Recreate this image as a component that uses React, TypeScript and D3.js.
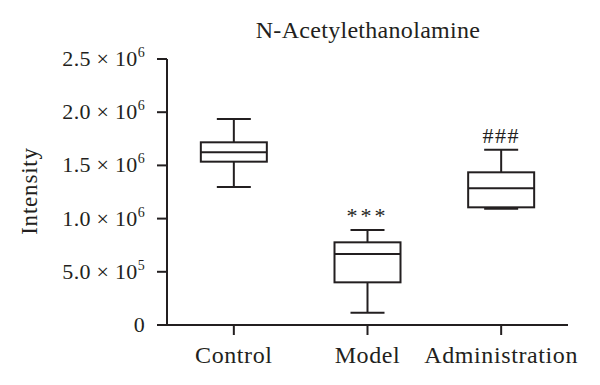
import React from 'react';
import * as d3 from 'd3';

const categories = ['Control', 'Model', 'Administration'];
// [min, q1, median, q3, max]
const whiskerLow = [1.297e6, 0.116e6, 1.093e6];
const quartile1 = [1.535e6, 0.401e6, 1.106e6];
const medians = [1.623e6, 0.667e6, 1.285e6];
const quartile3 = [1.717e6, 0.777e6, 1.435e6];
const whiskerHigh = [1.936e6, 0.893e6, 1.648e6];
const marks = ['', '***', '###'];

const tickValues = [0, 5e5, 1e6, 1.5e6, 2e6, 2.5e6];
const tickMantissa = ['0', '5.0', '1.0', '1.5', '2.0', '2.5'];
const tickExponent = ['', '5', '6', '6', '6', '6'];

const W = 600;
const H = 385;
const ink = '#231f20';
const font = '"Liberation Serif", "Times New Roman", serif';

const App: React.FC = () => {
  const y = d3.scaleLinear().domain([0, 2.5e6]).range([325, 59]);
  const x = d3.scaleBand<string>().domain(categories).range([167, 568]).padding(0);
  const boxW = 66;
  const capW = 34;

  return (
    <svg width={W} height={H} style={{ position: 'absolute', left: 0, top: 0, background: '#fff' }}
      fontFamily={font} fill={ink}>
      <text x={368} y={38} fontSize={24} letterSpacing={0.3} textAnchor="middle">N-Acetylethanolamine</text>

      {/* y axis */}
      <line x1={167} x2={167} y1={y(2.5e6)} y2={y(0)} stroke={ink} strokeWidth={2} />
      {tickValues.map((t, i) => (
        <g key={t}>
          <line x1={157} x2={167} y1={y(t)} y2={y(t)} stroke={ink} strokeWidth={2} />
          <text x={145} y={y(t) + 7} fontSize={22} textAnchor="end" letterSpacing={0.3}>
            {tickExponent[i] ? (
              <>
                {tickMantissa[i]} × 10
                <tspan fontSize={14} dy={-9}>{tickExponent[i]}</tspan>
              </>
            ) : tickMantissa[i]}
          </text>
        </g>
      ))}
      <text transform="translate(37,191) rotate(-90)" fontSize={23} letterSpacing={0.8} textAnchor="middle">Intensity</text>

      {/* x axis */}
      <line x1={157} x2={568} y1={y(0)} y2={y(0)} stroke={ink} strokeWidth={2} />
      {categories.map(c => {
        const cx = x(c)! + x.bandwidth() / 2;
        return (
          <g key={c}>
            <line x1={cx} x2={cx} y1={y(0)} y2={y(0) + 10} stroke={ink} strokeWidth={2} />
            <text x={cx} y={363} fontSize={24} letterSpacing={0.6} textAnchor="middle">{c}</text>
          </g>
        );
      })}

      {/* boxes */}
      {categories.map((c, i) => {
        const cx = x(c)! + x.bandwidth() / 2;
        return (
          <g key={c} stroke={ink} strokeWidth={2} fill="none">
            <line x1={cx} x2={cx} y1={y(whiskerHigh[i])} y2={y(quartile3[i])} />
            <line x1={cx} x2={cx} y1={y(quartile1[i])} y2={y(whiskerLow[i])} />
            <line x1={cx - capW / 2} x2={cx + capW / 2} y1={y(whiskerHigh[i])} y2={y(whiskerHigh[i])} />
            <line x1={cx - capW / 2} x2={cx + capW / 2} y1={y(whiskerLow[i])} y2={y(whiskerLow[i])} />
            <rect x={cx - boxW / 2} y={y(quartile3[i])} width={boxW} height={y(quartile1[i]) - y(quartile3[i])} fill="#fff" />
            <line x1={cx - boxW / 2} x2={cx + boxW / 2} y1={y(medians[i])} y2={y(medians[i])} />
          </g>
        );
      })}
      {categories.map((c, i) => marks[i] ? (
        <text key={c} x={x(c)! + x.bandwidth() / 2} y={y(whiskerHigh[i]) - 7} fontSize={22}
          letterSpacing={marks[i] === '***' ? 3 : 1.5} textAnchor="middle">{marks[i]}</text>
      ) : null)}
    </svg>
  );
};

export default App;
